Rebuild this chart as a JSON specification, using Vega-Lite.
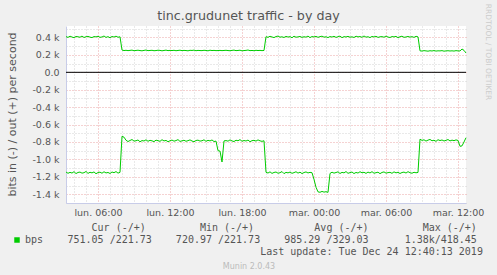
{
"$schema": "https://vega.github.io/schema/vega-lite/v6.json",
"autosize": {"type": "none"},
"width": 400, "height": 177,
"padding": {"left": 66, "top": 26, "right": 31, "bottom": 72},
"background": "#F0F0F0",
"config": {"view": {"fill": "#FFFFFF", "stroke": null}, "font": "DejaVu Sans"},
"title": {"text": "tinc.grudunet traffic - by day", "anchor": "middle", "frame": "group", "dx": -17.5, "dy": 22, "offset": 3, "font": "DejaVu Sans", "fontSize": 12.7, "fontWeight": "normal", "color": "#555555"},
"layer": [
{
"data": {"values": [
{"t":"2019-12-23T03:20Z","out":410,"in":-1145},
{"t":"2019-12-23T03:30Z","out":401,"in":-1160},
{"t":"2019-12-23T03:40Z","out":415,"in":-1149},
{"t":"2019-12-23T03:50Z","out":405,"in":-1157},
{"t":"2019-12-23T04:00Z","out":398,"in":-1141},
{"t":"2019-12-23T04:10Z","out":412,"in":-1163},
{"t":"2019-12-23T04:20Z","out":408,"in":-1150},
{"t":"2019-12-23T04:30Z","out":403,"in":-1146},
{"t":"2019-12-23T04:40Z","out":416,"in":-1158},
{"t":"2019-12-23T04:50Z","out":400,"in":-1153},
{"t":"2019-12-23T05:00Z","out":409,"in":-1139},
{"t":"2019-12-23T05:10Z","out":413,"in":-1161},
{"t":"2019-12-23T05:20Z","out":404,"in":-1148},
{"t":"2019-12-23T05:30Z","out":399,"in":-1155},
{"t":"2019-12-23T05:40Z","out":411,"in":-1144},
{"t":"2019-12-23T05:50Z","out":407,"in":-1165},
{"t":"2019-12-23T06:00Z","out":414,"in":-1151},
{"t":"2019-12-23T06:10Z","out":402,"in":-1147},
{"t":"2019-12-23T06:20Z","out":406,"in":-1159},
{"t":"2019-12-23T06:30Z","out":417,"in":-1142},
{"t":"2019-12-23T06:40Z","out":401,"in":-1156},
{"t":"2019-12-23T06:50Z","out":410,"in":-1150},
{"t":"2019-12-23T07:00Z","out":397,"in":-1162},
{"t":"2019-12-23T07:10Z","out":412,"in":-1145},
{"t":"2019-12-23T07:20Z","out":405,"in":-1153},
{"t":"2019-12-23T07:30Z","out":415,"in":-1140},
{"t":"2019-12-23T07:40Z","out":403,"in":-1158},
{"t":"2019-12-23T07:50Z","out":408,"in":-1149},
{"t":"2019-12-23T08:00Z","out":256,"in":-735},
{"t":"2019-12-23T08:10Z","out":250,"in":-745},
{"t":"2019-12-23T08:20Z","out":253,"in":-780},
{"t":"2019-12-23T08:30Z","out":249,"in":-795},
{"t":"2019-12-23T08:40Z","out":252,"in":-783},
{"t":"2019-12-23T08:50Z","out":255,"in":-772},
{"t":"2019-12-23T09:00Z","out":248,"in":-790},
{"t":"2019-12-23T09:10Z","out":251,"in":-786},
{"t":"2019-12-23T09:20Z","out":254,"in":-777},
{"t":"2019-12-23T09:30Z","out":250,"in":-798},
{"t":"2019-12-23T09:40Z","out":247,"in":-784},
{"t":"2019-12-23T09:50Z","out":252,"in":-789},
{"t":"2019-12-23T10:00Z","out":256,"in":-775},
{"t":"2019-12-23T10:10Z","out":249,"in":-792},
{"t":"2019-12-23T10:20Z","out":251,"in":-781},
{"t":"2019-12-23T10:30Z","out":253,"in":-787},
{"t":"2019-12-23T10:40Z","out":248,"in":-796},
{"t":"2019-12-23T10:50Z","out":250,"in":-779},
{"t":"2019-12-23T11:00Z","out":254,"in":-785},
{"t":"2019-12-23T11:10Z","out":252,"in":-793},
{"t":"2019-12-23T11:20Z","out":247,"in":-774},
{"t":"2019-12-23T11:30Z","out":251,"in":-788},
{"t":"2019-12-23T11:40Z","out":255,"in":-782},
{"t":"2019-12-23T11:50Z","out":249,"in":-797},
{"t":"2019-12-23T12:00Z","out":252,"in":-786},
{"t":"2019-12-23T12:10Z","out":250,"in":-778},
{"t":"2019-12-23T12:20Z","out":253,"in":-791},
{"t":"2019-12-23T12:30Z","out":248,"in":-784},
{"t":"2019-12-23T12:40Z","out":251,"in":-773},
{"t":"2019-12-23T12:50Z","out":254,"in":-794},
{"t":"2019-12-23T13:00Z","out":249,"in":-787},
{"t":"2019-12-23T13:10Z","out":252,"in":-780},
{"t":"2019-12-23T13:20Z","out":250,"in":-792},
{"t":"2019-12-23T13:30Z","out":247,"in":-785},
{"t":"2019-12-23T13:40Z","out":253,"in":-776},
{"t":"2019-12-23T13:50Z","out":251,"in":-789},
{"t":"2019-12-23T14:00Z","out":255,"in":-798},
{"t":"2019-12-23T14:10Z","out":248,"in":-783},
{"t":"2019-12-23T14:20Z","out":252,"in":-779},
{"t":"2019-12-23T14:30Z","out":250,"in":-790},
{"t":"2019-12-23T14:40Z","out":249,"in":-786},
{"t":"2019-12-23T14:50Z","out":253,"in":-775},
{"t":"2019-12-23T15:00Z","out":251,"in":-793},
{"t":"2019-12-23T15:10Z","out":247,"in":-781},
{"t":"2019-12-23T15:20Z","out":254,"in":-788},
{"t":"2019-12-23T15:30Z","out":250,"in":-777},
{"t":"2019-12-23T15:40Z","out":252,"in":-795},
{"t":"2019-12-23T15:50Z","out":249,"in":-790},
{"t":"2019-12-23T16:00Z","out":250,"in":-900},
{"t":"2019-12-23T16:10Z","out":252,"in":-905},
{"t":"2019-12-23T16:20Z","out":249,"in":-1030},
{"t":"2019-12-23T16:30Z","out":251,"in":-788},
{"t":"2019-12-23T16:40Z","out":253,"in":-784},
{"t":"2019-12-23T16:50Z","out":250,"in":-791},
{"t":"2019-12-23T17:00Z","out":248,"in":-776},
{"t":"2019-12-23T17:10Z","out":252,"in":-788},
{"t":"2019-12-23T17:20Z","out":255,"in":-795},
{"t":"2019-12-23T17:30Z","out":249,"in":-780},
{"t":"2019-12-23T17:40Z","out":251,"in":-786},
{"t":"2019-12-23T17:50Z","out":254,"in":-773},
{"t":"2019-12-23T18:00Z","out":247,"in":-792},
{"t":"2019-12-23T18:10Z","out":250,"in":-783},
{"t":"2019-12-23T18:20Z","out":252,"in":-789},
{"t":"2019-12-23T18:30Z","out":256,"in":-778},
{"t":"2019-12-23T18:40Z","out":249,"in":-797},
{"t":"2019-12-23T18:50Z","out":251,"in":-785},
{"t":"2019-12-23T19:00Z","out":248,"in":-781},
{"t":"2019-12-23T19:10Z","out":253,"in":-790},
{"t":"2019-12-23T19:20Z","out":250,"in":-776},
{"t":"2019-12-23T19:30Z","out":252,"in":-787},
{"t":"2019-12-23T19:40Z","out":249,"in":-793},
{"t":"2019-12-23T19:50Z","out":251,"in":-786},
{"t":"2019-12-23T20:00Z","out":409,"in":-1148},
{"t":"2019-12-23T20:10Z","out":402,"in":-1157},
{"t":"2019-12-23T20:20Z","out":414,"in":-1143},
{"t":"2019-12-23T20:30Z","out":406,"in":-1161},
{"t":"2019-12-23T20:40Z","out":399,"in":-1150},
{"t":"2019-12-23T20:50Z","out":411,"in":-1145},
{"t":"2019-12-23T21:00Z","out":416,"in":-1159},
{"t":"2019-12-23T21:10Z","out":404,"in":-1153},
{"t":"2019-12-23T21:20Z","out":408,"in":-1140},
{"t":"2019-12-23T21:30Z","out":400,"in":-1164},
{"t":"2019-12-23T21:40Z","out":413,"in":-1149},
{"t":"2019-12-23T21:50Z","out":405,"in":-1155},
{"t":"2019-12-23T22:00Z","out":410,"in":-1146},
{"t":"2019-12-23T22:10Z","out":397,"in":-1160},
{"t":"2019-12-23T22:20Z","out":415,"in":-1152},
{"t":"2019-12-23T22:30Z","out":403,"in":-1142},
{"t":"2019-12-23T22:40Z","out":407,"in":-1158},
{"t":"2019-12-23T22:50Z","out":412,"in":-1147},
{"t":"2019-12-23T23:00Z","out":401,"in":-1163},
{"t":"2019-12-23T23:10Z","out":409,"in":-1151},
{"t":"2019-12-23T23:20Z","out":404,"in":-1144},
{"t":"2019-12-23T23:30Z","out":416,"in":-1156},
{"t":"2019-12-23T23:40Z","out":399,"in":-1149},
{"t":"2019-12-23T23:50Z","out":411,"in":-1153},
{"t":"2019-12-24T00:00Z","out":406,"in":-1230},
{"t":"2019-12-24T00:10Z","out":413,"in":-1320},
{"t":"2019-12-24T00:20Z","out":402,"in":-1373},
{"t":"2019-12-24T00:30Z","out":410,"in":-1378},
{"t":"2019-12-24T00:40Z","out":415,"in":-1368},
{"t":"2019-12-24T00:50Z","out":404,"in":-1376},
{"t":"2019-12-24T01:00Z","out":408,"in":-1371},
{"t":"2019-12-24T01:10Z","out":399,"in":-1379},
{"t":"2019-12-24T01:20Z","out":411,"in":-1162},
{"t":"2019-12-24T01:30Z","out":405,"in":-1147},
{"t":"2019-12-24T01:40Z","out":414,"in":-1158},
{"t":"2019-12-24T01:50Z","out":401,"in":-1151},
{"t":"2019-12-24T02:00Z","out":409,"in":-1143},
{"t":"2019-12-24T02:10Z","out":416,"in":-1162},
{"t":"2019-12-24T02:20Z","out":398,"in":-1149},
{"t":"2019-12-24T02:30Z","out":410,"in":-1155},
{"t":"2019-12-24T02:40Z","out":406,"in":-1140},
{"t":"2019-12-24T02:50Z","out":413,"in":-1160},
{"t":"2019-12-24T03:00Z","out":403,"in":-1152},
{"t":"2019-12-24T03:10Z","out":408,"in":-1145},
{"t":"2019-12-24T03:20Z","out":400,"in":-1163},
{"t":"2019-12-24T03:30Z","out":415,"in":-1150},
{"t":"2019-12-24T03:40Z","out":407,"in":-1157},
{"t":"2019-12-24T03:50Z","out":411,"in":-1142},
{"t":"2019-12-24T04:00Z","out":402,"in":-1154},
{"t":"2019-12-24T04:10Z","out":417,"in":-1148},
{"t":"2019-12-24T04:20Z","out":404,"in":-1161},
{"t":"2019-12-24T04:30Z","out":409,"in":-1146},
{"t":"2019-12-24T04:40Z","out":399,"in":-1156},
{"t":"2019-12-24T04:50Z","out":412,"in":-1141},
{"t":"2019-12-24T05:00Z","out":406,"in":-1159},
{"t":"2019-12-24T05:10Z","out":414,"in":-1153},
{"t":"2019-12-24T05:20Z","out":401,"in":-1147},
{"t":"2019-12-24T05:30Z","out":408,"in":-1164},
{"t":"2019-12-24T05:40Z","out":410,"in":-1150},
{"t":"2019-12-24T05:50Z","out":403,"in":-1144},
{"t":"2019-12-24T06:00Z","out":416,"in":-1158},
{"t":"2019-12-24T06:10Z","out":405,"in":-1152},
{"t":"2019-12-24T06:20Z","out":400,"in":-1149},
{"t":"2019-12-24T06:30Z","out":411,"in":-1160},
{"t":"2019-12-24T06:40Z","out":407,"in":-1143},
{"t":"2019-12-24T06:50Z","out":413,"in":-1155},
{"t":"2019-12-24T07:00Z","out":398,"in":-1148},
{"t":"2019-12-24T07:10Z","out":409,"in":-1162},
{"t":"2019-12-24T07:20Z","out":415,"in":-1151},
{"t":"2019-12-24T07:30Z","out":402,"in":-1146},
{"t":"2019-12-24T07:40Z","out":406,"in":-1157},
{"t":"2019-12-24T07:50Z","out":412,"in":-1141},
{"t":"2019-12-24T08:00Z","out":404,"in":-1153},
{"t":"2019-12-24T08:10Z","out":410,"in":-1159},
{"t":"2019-12-24T08:20Z","out":401,"in":-1148},
{"t":"2019-12-24T08:30Z","out":414,"in":-1154},
{"t":"2019-12-24T08:40Z","out":407,"in":-1150},
{"t":"2019-12-24T08:50Z","out":247,"in":-768},
{"t":"2019-12-24T09:00Z","out":244,"in":-782},
{"t":"2019-12-24T09:10Z","out":249,"in":-775},
{"t":"2019-12-24T09:20Z","out":246,"in":-790},
{"t":"2019-12-24T09:30Z","out":243,"in":-779},
{"t":"2019-12-24T09:40Z","out":248,"in":-771},
{"t":"2019-12-24T09:50Z","out":245,"in":-786},
{"t":"2019-12-24T10:00Z","out":250,"in":-780},
{"t":"2019-12-24T10:10Z","out":244,"in":-793},
{"t":"2019-12-24T10:20Z","out":247,"in":-774},
{"t":"2019-12-24T10:30Z","out":246,"in":-784},
{"t":"2019-12-24T10:40Z","out":249,"in":-777},
{"t":"2019-12-24T10:50Z","out":243,"in":-789},
{"t":"2019-12-24T11:00Z","out":246,"in":-781},
{"t":"2019-12-24T11:10Z","out":248,"in":-772},
{"t":"2019-12-24T11:20Z","out":245,"in":-788},
{"t":"2019-12-24T11:30Z","out":247,"in":-779},
{"t":"2019-12-24T11:40Z","out":244,"in":-785},
{"t":"2019-12-24T11:50Z","out":249,"in":-776},
{"t":"2019-12-24T12:00Z","out":246,"in":-783},
{"t":"2019-12-24T12:10Z","out":245,"in":-850},
{"t":"2019-12-24T12:20Z","out":268,"in":-845},
{"t":"2019-12-24T12:30Z","out":252,"in":-800},
{"t":"2019-12-24T12:40Z","out":222,"in":-751}
]},
"transform": [{"fold": ["out", "in"], "as": ["dir", "bps"]}],
"mark": {"type": "line", "strokeWidth": 1},
"encoding": {
"x": {"field": "t", "type": "temporal",
 "scale": {"type": "utc", "domain": [1577071200000, 1577191200000]},
 "axis": {"orient": "bottom",
  "values": [1577073600000,1577077200000,1577080800000,1577084400000,1577088000000,1577091600000,1577095200000,1577098800000,1577102400000,1577106000000,1577109600000,1577113200000,1577116800000,1577120400000,1577124000000,1577127600000,1577131200000,1577134800000,1577138400000,1577142000000,1577145600000,1577149200000,1577152800000,1577156400000,1577160000000,1577163600000,1577167200000,1577170800000,1577174400000,1577178000000,1577181600000,1577185200000,1577188800000],
  "labelExpr": "floor(datum.value / 3600000) % 6 === 0 ? (datum.value < 1577145600000 ? 'lun. ' : 'mar. ') + (floor(datum.value / 3600000) % 24 < 10 ? '0' : '') + (floor(datum.value / 3600000) % 24) + ':00' : ''",
  "labelOverlap": false, "labelFlush": false, "labelBound": false,
  "labelFont": "DejaVu Sans", "labelFontSize": 9.5, "labelColor": "#555555", "labelPadding": 4,
  "ticks": false, "domainColor": "#c8cce8",
  "grid": true,
  "gridColor": {"condition": {"test": "floor(datum.value / 3600000) % 6 === 0", "value": "#eaa5a5"}, "value": "#d2d2d2"},
  "gridDash": [1, 2],
  "title": ["\u200b\u00a0\u00a0\u00a0\u00a0Cur (-/+)\u00a0\u00a0\u00a0\u00a0\u00a0\u00a0\u00a0\u00a0\u00a0Min (-/+)\u00a0\u00a0\u00a0\u00a0\u00a0\u00a0\u00a0\u00a0\u00a0\u00a0Avg (-/+)\u00a0\u00a0\u00a0\u00a0\u00a0\u00a0\u00a0\u00a0\u00a0Max (-/+)",
            "751.05 /221.73\u00a0\u00a0\u00a0\u00a0720.97 /221.73\u00a0\u00a0\u00a0\u00a0985.29 /329.03\u00a0\u00a0\u00a0\u00a0\u00a0\u00a01.38k/418.45",
            "\u200b\u00a0\u00a0\u00a0\u00a0\u00a0\u00a0\u00a0\u00a0\u00a0\u00a0\u00a0\u00a0\u00a0\u00a0\u00a0\u00a0\u00a0\u00a0\u00a0\u00a0\u00a0\u00a0\u00a0\u00a0\u00a0\u00a0\u00a0\u00a0\u00a0\u00a0\u00a0\u00a0Last update: Tue Dec 24 12:40:13 2019"],
  "titleFont": "DejaVu Sans Mono", "titleFontSize": 10, "titleFontWeight": "normal", "titleColor": "#555555",
  "titleAlign": "left", "titleAnchor": "start", "titleBaseline": "alphabetic", "titleLineHeight": 12,
  "titleX": 1, "titleY": 27}},
"y": {"field": "bps", "type": "quantitative",
 "scale": {"domain": [-1501, 532], "nice": false, "zero": false},
 "axis": {"orient": "left",
  "values": [-1500, -1400, -1300, -1200, -1100, -1000, -900, -800, -700, -600, -500, -400, -300, -200, -100, 0, 100, 200, 300, 400, 500],
  "labelExpr": "datum.value % 200 === 0 ? (datum.value === 0 ? '0.0' : (datum.value < 0 ? '-' : '') + format(abs(datum.value) / 1000, '.1f') + ' k') : ''",
  "labelOverlap": false, "labelFlush": false,
  "labelFont": "DejaVu Sans", "labelFontSize": 9.5, "labelColor": "#555555", "labelPadding": 7,
  "ticks": false, "domainColor": "#c8cce8",
  "grid": true,
  "gridColor": {"condition": {"test": "datum.value % 200 === 0", "value": "#eaa5a5"}, "value": "#d2d2d2"},
  "gridDash": [1, 2],
  "title": "bits in (-) / out (+) per second",
  "titleFont": "DejaVu Sans", "titleFontSize": 11, "titleFontWeight": "normal", "titleColor": "#555555",
  "titleAngle": 270, "titleAlign": "center", "titleBaseline": "middle", "titleX": -54, "titleY": 88}},
"detail": {"field": "dir"},
"color": {"datum": "bps", "scale": {"range": ["#00CC00"]},
 "legend": {"orient": "none", "legendX": -54, "legendY": 209, "title": null, "padding": 0,
  "symbolType": "square", "symbolSize": 30, "symbolFillColor": "#00CC00", "symbolStrokeColor": "#00CC00", "symbolStrokeWidth": 0,
  "labelFont": "DejaVu Sans Mono", "labelFontSize": 10, "labelColor": "#555555", "labelOffset": 3}}
}
},
{
"data": {"values": [{"t0": "2019-12-23T03:20Z", "t1": "2019-12-24T12:40Z", "zero": 0}]},
"mark": {"type": "rule", "color": "#000000", "strokeWidth": 1},
"encoding": {
"x": {"field": "t0", "type": "temporal", "scale": {"type": "utc"},
 "axis": {"orient": "bottom", "labels": false, "ticks": false, "domain": false, "grid": false,
  "title": "Munin 2.0.43", "titleFont": "DejaVu Sans", "titleFontSize": 8, "titleFontWeight": "normal", "titleColor": "#bbbbbb",
  "titleAlign": "center", "titleBaseline": "alphabetic", "titleX": 182.5, "titleY": 65}},
"x2": {"field": "t1"},
"y": {"field": "zero", "type": "quantitative",
 "axis": {"orient": "right", "labels": false, "ticks": false, "domain": false, "grid": false,
  "title": "RRDTOOL / TOBI OETIKER", "titleFont": "DejaVu Sans", "titleFontSize": 7.5, "titleFontWeight": "normal", "titleColor": "#cccccc",
  "titleAngle": 90, "titleAlign": "center", "titleBaseline": "middle", "titleX": 21.5, "titleY": 25.5}}
}
}
],
"resolve": {"axis": {"x": "independent", "y": "independent"}}
}
